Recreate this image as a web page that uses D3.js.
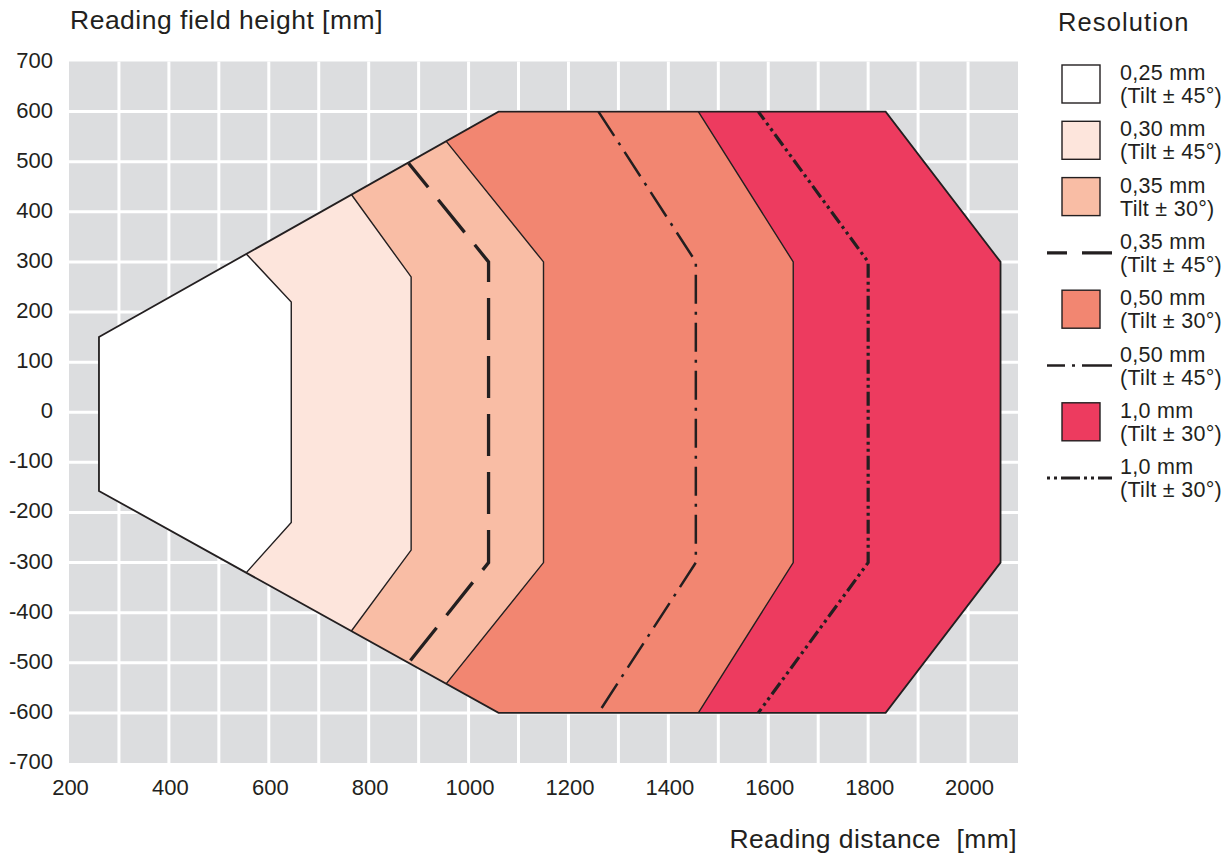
<!DOCTYPE html>
<html>
<head>
<meta charset="utf-8">
<script src="https://cdn.jsdelivr.net/npm/d3@7"></script>
<style>
  html, body { margin: 0; padding: 0; background: #ffffff; }
  svg { display: block; font-family: "Liberation Sans", Arial, Helvetica, sans-serif; }
</style>
</head>
<body>
<svg id="chart" width="1229" height="856"></svg>
<script>
// ---- data ----
const xTicks = [200, 400, 600, 800, 1000, 1200, 1400, 1600, 1800, 2000];
const xGrid = d3.range(200, 2101, 100);
const yTicks = [-700, -600, -500, -400, -300, -200, -100, 0, 100, 200, 300, 400, 500, 600, 700];

// left part of the reading field envelope (distance, height)
const envTop = [[260, 150], [1060, 600]];
const envBottom = [[1060, -600], [260, -157]];

// far boundaries of each resolution zone (distance, height)
const b025_45 = [[555, 316], [645, 220], [645, -220], [555, -320]];
const b030_45 = [[765, 435], [885, 270], [885, -275], [765, -437]];
const b035_30 = [[955, 541], [1150, 300], [1150, -300], [955, -542]];
const b035_45 = [[880, 497], [1040, 300], [1040, -300], [880, -500]];
const b050_30 = [[1460, 600], [1650, 300], [1650, -300], [1460, -600]];
const b050_45 = [[1260, 600], [1455, 300], [1455, -300], [1260, -600]];
const b100_30 = [[1835, 600], [2065, 300], [2065, -300], [1835, -600]];
const b100_45 = [[1580, 600], [1800, 300], [1800, -300], [1580, -600]];

const legendRes = ["0,25 mm", "0,30 mm", "0,35 mm", "0,35 mm", "0,50 mm", "0,50 mm", "1,0 mm", "1,0 mm"];
const legendTilt = ["(Tilt ± 45°)", "(Tilt ± 45°)", "Tilt ± 30°)", "(Tilt ± 45°)", "(Tilt ± 30°)", "(Tilt ± 45°)", "(Tilt ± 30°)", "(Tilt ± 30°)"];
const legendKind = ["fill", "fill", "fill", "dash", "fill", "dashdot", "fill", "dashdotdot"];
const zoneColors = ["#ffffff", "#fde5dc", "#f9bda5", null, "#f28671", null, "#ed3b5f", null];

// ---- drawing ----
const svg = d3.select("#chart");
const x = d3.scaleLinear().domain([200, 2100]).range([69, 1018]);
const y = d3.scaleLinear().domain([-700, 700]).range([763, 61.5]);
const ink = "#231f20";

// plot background
svg.append("rect")
  .attr("x", x(200)).attr("y", y(700))
  .attr("width", x(2100) - x(200)).attr("height", y(-700) - y(700))
  .attr("fill", "#dcdddf");

// grid
const g = svg.append("g").attr("stroke", "#ffffff").attr("stroke-width", 3);
xGrid.slice(1, -1).forEach(v => {
  g.append("line").attr("x1", x(v)).attr("x2", x(v)).attr("y1", y(700)).attr("y2", y(-700));
});
yTicks.slice(1, -1).forEach(v => {
  g.append("line").attr("x1", x(200)).attr("x2", x(2100)).attr("y1", y(v)).attr("y2", y(v));
});

const line = d3.line().x(d => x(d[0])).y(d => y(d[1]));

function zonePoly(b) {
  const pts = [envTop[0]];
  if (b[0][0] > envTop[1][0]) pts.push(envTop[1]);
  pts.push(...b);
  if (b[b.length - 1][0] > envBottom[0][0]) pts.push(envBottom[0]);
  pts.push(envBottom[1]);
  return pts;
}

// filled zones, outermost first
const fills = [
  [b100_30, "#ed3b5f"],
  [b050_30, "#f28671"],
  [b035_30, "#f9bda5"],
  [b030_45, "#fde5dc"],
  [b025_45, "#ffffff"]
];
fills.forEach(([b, c]) => {
  svg.append("path").attr("d", line(zonePoly(b)) + "Z").attr("fill", c).attr("stroke", "none");
});

// internal boundaries
[b025_45, b030_45, b035_30, b050_30].forEach(b => {
  svg.append("path").attr("d", line(b)).attr("fill", "none")
    .attr("stroke", ink).attr("stroke-width", 1.4).attr("stroke-linejoin", "miter");
});

// envelope outline
svg.append("path").attr("d", line(zonePoly(b100_30)) + "Z").attr("fill", "none")
  .attr("stroke", ink).attr("stroke-width", 1.8).attr("stroke-linejoin", "miter");

// tilt 45 lines
svg.append("path").attr("d", line(b035_45)).attr("fill", "none")
  .attr("stroke", ink).attr("stroke-width", 3.3)
  .attr("stroke-dasharray", "42,16").attr("stroke-dashoffset", 11);
svg.append("path").attr("d", line(b050_45)).attr("fill", "none")
  .attr("stroke", ink).attr("stroke-width", 2.5)
  .attr("stroke-dasharray", "29,8,3,8").attr("stroke-dashoffset", 0);
svg.append("path").attr("d", line(b100_45)).attr("fill", "none")
  .attr("stroke", ink).attr("stroke-width", 3.2)
  .attr("stroke-dasharray", "14,4,3,4,3,4").attr("stroke-dashoffset", 4);

// ticks labels
svg.append("g").selectAll("text").data(yTicks).join("text")
  .attr("x", 53).attr("y", d => y(d) + 6)
  .attr("text-anchor", "end").attr("font-size", 22).attr("fill", ink)
  .text(d => d);
svg.append("g").selectAll("text").data(xTicks).join("text")
  .attr("x", d => x(d) + 1.5).attr("y", 795)
  .attr("text-anchor", "middle").attr("font-size", 22).attr("fill", ink)
  .text(d => d);

// axis titles
svg.append("text").attr("x", 70).attr("y", 29).attr("font-size", 26.5).attr("fill", ink)
  .attr("letter-spacing", 0.5)
  .text("Reading field height [mm]");
svg.append("text").attr("x", 1017).attr("y", 848).attr("text-anchor", "end")
  .attr("font-size", 26.5).attr("fill", ink).attr("xml:space", "preserve")
  .attr("letter-spacing", 0.42)
  .text("Reading distance  [mm]");

// legend
svg.append("text").attr("x", 1058).attr("y", 31).attr("font-size", 25.5).attr("fill", ink)
  .attr("letter-spacing", 1.1)
  .text("Resolution");
const legendDash = {
  dash: "20,15,30",
  dashdot: "18,7,3,7,30",
  dashdotdot: "3,4,3,4,19,4,3,4,3,4,20"
};
const legendW = { dash: 3.3, dashdot: 2.5, dashdotdot: 3 };
legendRes.forEach((r, i) => {
  const cy = 84 + i * 56.3;
  const k = legendKind[i];
  if (k === "fill") {
    svg.append("rect").attr("x", 1062).attr("y", cy - 19).attr("width", 38).attr("height", 38)
      .attr("fill", zoneColors[i]).attr("stroke", ink).attr("stroke-width", 1.4);
  } else {
    svg.append("line").attr("x1", 1047).attr("x2", 1112).attr("y1", cy).attr("y2", cy)
      .attr("stroke", ink).attr("stroke-width", legendW[k])
      .attr("stroke-dasharray", legendDash[k]);
  }
  svg.append("text").attr("x", 1120).attr("y", cy - 4).attr("font-size", 21.5).attr("fill", ink)
    .attr("letter-spacing", 0.3).text(r);
  svg.append("text").attr("x", 1120).attr("y", cy + 19).attr("font-size", 21.5).attr("fill", ink)
    .attr("letter-spacing", 0.3).text(legendTilt[i]);
});
</script>
</body>
</html>
